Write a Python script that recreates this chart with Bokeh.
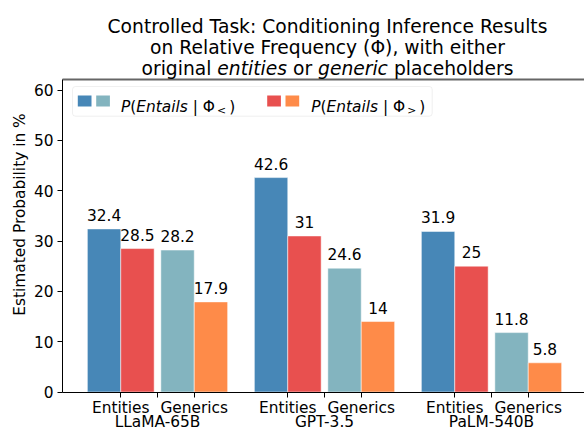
import math
from bokeh.plotting import figure
from bokeh.models import (ColumnDataSource, FixedTicker, LinearAxis, Range1d,
                          Label, LabelSet, BoxAnnotation)
from bokeh.core.properties import value
from bokeh.embed import file_html
from bokeh.resources import INLINE

# ---------------- data ----------------
models = ["LLaMA-65B", "GPT-3.5", "PaLM-540B"]
conditions = ["Entities", "Generics"]
entities_lt = [32.4, 42.6, 31.9]   # P(Entails | Phi_<), original entities
entities_gt = [28.5, 31.0, 25.0]   # P(Entails | Phi_>), original entities
generics_lt = [28.2, 24.6, 11.8]   # P(Entails | Phi_<), generic placeholders
generics_gt = [17.9, 14.0, 5.8]    # P(Entails | Phi_>), generic placeholders
y_ticks = [0, 10, 20, 30, 40, 50, 60]
y_max = 62
title_lines = ["Controlled Task: Conditioning Inference Results",
               "on Relative Frequency (\u03a6), with either"]
title_line3 = [("original ", False), ("entities", True), (" or ", False),
               ("generic", True), (" placeholders", False)]
y_label = "Estimated Probability in %"

# ---------------- layout / style ----------------
W, H = 584, 432
PX_X = 167.0            # pixels per group
X0 = 157.0              # pixel x of first group centre
PX_Y = 302.0 / 60.0     # pixels per percent
Y0 = 391.5              # pixel y of 0 %
AX_LEFT = 62.0          # pixel x of the left spine

FONT = "DejaVu Sans"
BASE = 15.4
TITLE = 18.7
BLUE, RED, TEAL, ORANGE = "#4787b7", "#e8504f", "#83b4bf", "#fe8b49"

# DejaVu Sans advance widths (units per em = 2048)
ADV = {' ': 651, 'a': 1255, 'b': 1300, 'c': 1126, 'd': 1300, 'e': 1260, 'f': 721,
       'g': 1300, 'h': 1298, 'i': 569, 'l': 569, 'n': 1298, 'o': 1253, 'p': 1300,
       'r': 842, 's': 1067, 't': 803, 'u': 1298, 'E': 1294, 'P': 1235, '(': 799,
       ')': 799, '|': 690, '\u03a6': 1636, '<': 1716, '>': 1716}


def tw(s, size):
    return sum(ADV.get(ch, 1200) for ch in s) * size / 2048.0


def dx(px):
    return (px - X0) / PX_X


def sy(py):
    return H - py


x_left, x_right = dx(0), dx(W)
y_bottom, y_top = -(H - Y0) / PX_Y, Y0 / PX_Y

p = figure(width=W, height=H, min_border=0, x_range=Range1d(x_left, x_right),
           y_range=Range1d(y_bottom, y_top), output_backend="svg",
           toolbar_location=None, title=None)
p.xgrid.visible = False
p.ygrid.visible = False
p.outline_line_color = None
p.background_fill_color = "white"
p.border_fill_color = "white"

# ---------------- bars ----------------
series = [(entities_lt, -0.32, BLUE), (entities_gt, -0.12, RED),
          (generics_lt, 0.12, TEAL), (generics_gt, 0.32, ORANGE)]
for vals, off, col in series:
    xs = [i + off for i in range(len(models))]
    src = ColumnDataSource(dict(x=xs, top=vals, label=[f"{v:g}" for v in vals]))
    p.vbar(x="x", top="top", bottom=0, width=0.2, source=src, fill_color=col,
           line_color="white", line_alpha=0.5, line_width=1)
    p.add_layout(LabelSet(x="x", y="top", text="label", source=src, text_align="center",
                          text_baseline="alphabetic", y_offset=8, text_font=value(FONT),
                          text_font_size=value(f"{BASE}px"), text_color="black"))

# ---------------- axes ----------------
x_ticks = []
x_over = {}
for i in range(len(models)):
    for off, lab in ((-0.22, conditions[0]), (0.0, ""), (0.22, conditions[1])):
        t = round(i + off, 2)
        x_ticks.append(t)
        x_over[t] = lab

common = dict(major_label_text_font=FONT, major_label_text_font_size=f"{BASE}px",
              major_label_text_color="black", minor_tick_line_color=None)

xa = p.xaxis[0]
xa.update(ticker=FixedTicker(ticks=x_ticks), major_label_overrides=x_over,
          fixed_location=0, bounds=(dx(AX_LEFT), x_right), major_tick_out=5,
          major_tick_in=0, major_label_standoff=2, axis_line_color="black",
          major_tick_line_color="black", **common)

ma = LinearAxis(ticker=FixedTicker(ticks=[0, 1, 2]),
                major_label_overrides={i: m for i, m in enumerate(models)},
                fixed_location=0, axis_line_color=None, major_tick_line_color=None,
                major_tick_out=0, major_tick_in=0, major_label_standoff=21, **common)
p.add_layout(ma, "below")

ya = p.yaxis[0]
ya.update(ticker=FixedTicker(ticks=y_ticks), fixed_location=dx(AX_LEFT),
          bounds=(0, y_max), major_tick_out=5, major_tick_in=0,
          major_label_standoff=4, axis_line_color="black",
          major_tick_line_color="black", **common)

# gray top spine
ta = LinearAxis(ticker=FixedTicker(ticks=[]), fixed_location=y_max,
                bounds=(dx(AX_LEFT), x_right), axis_line_color="#666666",
                axis_line_width=2, major_tick_line_color=None, **common)
p.add_layout(ta, "above")

# y axis label (rotated)
p.add_layout(Label(x=19, y=sy(214), x_units="screen", y_units="screen", text=y_label,
                   angle=math.pi / 2, text_align="center", text_baseline="middle",
                   text_font=FONT, text_font_size=f"{BASE}px", text_color="black"))


def put_runs(runs, x0, base_y):
    cx = x0
    for s, st, sz, dy_, gap in runs:
        lead = len(s) - len(s.lstrip())
        txt = s.strip()
        p.add_layout(Label(x=cx + tw(s[:lead], sz), y=base_y + dy_, x_units="screen",
                           y_units="screen", text=txt, text_align="left",
                           text_baseline="alphabetic", text_font=FONT,
                           text_font_size=f"{sz}px", text_font_style=st,
                           text_color="black"))
        cx += tw(s, sz) + gap


# ---------------- title ----------------
TC = 327.0
for txt, yb in zip(title_lines, (25.7, 47.3)):
    p.add_layout(Label(x=TC, y=sy(yb), x_units="screen", y_units="screen", text=txt,
                       text_align="center", text_baseline="alphabetic",
                       text_font=FONT, text_font_size=f"{TITLE}px", text_color="black"))
runs3 = [(s, "italic" if it else "normal", TITLE, 0, 0) for s, it in title_line3]
total = sum(tw(s, TITLE) for s, _ in title_line3)
put_runs(runs3, TC - total / 2, sy(68.3))


# ---------------- legend ----------------
def sbox(l, r, t, b, **kw):
    return BoxAnnotation(left=l, right=r, top=sy(t), bottom=sy(b), left_units="screen",
                         right_units="screen", top_units="screen", bottom_units="screen", **kw)


p.add_layout(sbox(72, 431.7, 86, 115.7, fill_color="white", fill_alpha=0.8,
                  line_color="#cccccc", line_width=1, border_radius=3))
for l, col in ((77.3, BLUE), (95.7, TEAL), (266.7, RED), (285.0, ORANGE)):
    p.add_layout(sbox(l, l + 13.7, 95, 106, fill_color=col, fill_alpha=1.0,
                      line_color=None))

SUB = round(BASE * 0.7, 1)
for x0, sym in ((120.5, "<"), (310.7, ">")):
    runs = [("P", "italic", BASE, 0, 0), ("(", "normal", BASE, 0, 0),
            ("Entails", "italic", BASE, 0, 0), (" | \u03a6", "normal", BASE, 0, 2),
            (sym, "normal", SUB, -3.5, 3), (")", "normal", BASE, 0, 0)]
    put_runs(runs, x0, sy(106.7))

open("out.html", "w").write(file_html(p, INLINE))
